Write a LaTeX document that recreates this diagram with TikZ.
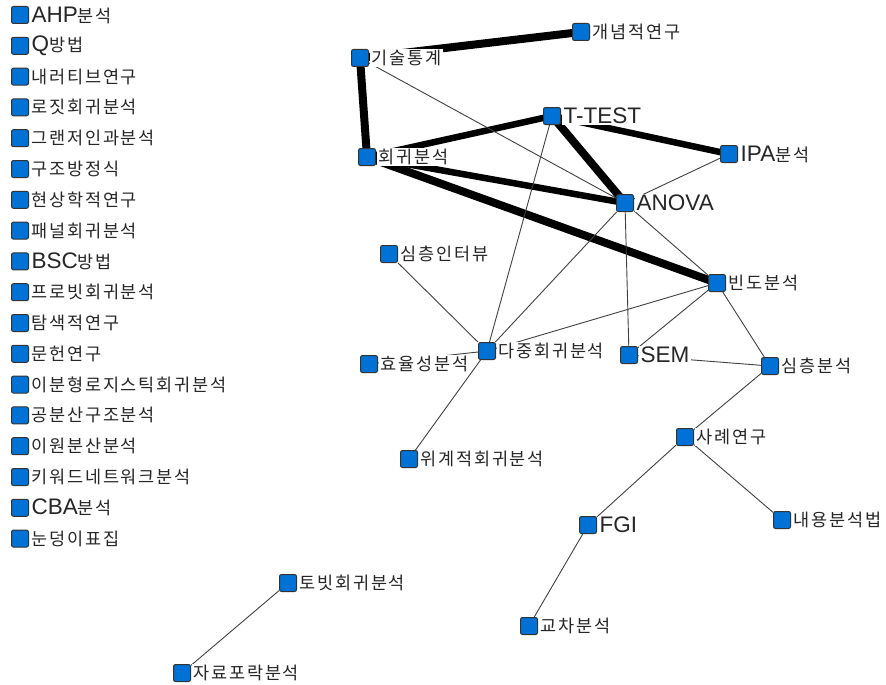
\documentclass[tikz,border=0pt]{standalone}
\usepackage{fontspec}
\usepackage{xcolor}
\setmainfont[LetterSpace=10]{Noto Sans CJK KR}
\newfontfamily\latinfont{Liberation Sans}
\usetikzlibrary{positioning,backgrounds}

\definecolor{nodeblue}{RGB}{0,114,214}
\newcommand{\latn}[1]{{\latinfont\fontsize{22.5}{22.5}\selectfont #1}}

\tikzset{
    kw/.style={draw=black!80, fill=nodeblue, rounded corners=2pt, minimum size=17pt, inner sep=0pt, line width=1pt},
    kwtext/.style={fill=white, inner sep=1.5pt, text=black!85, font=\fontsize{17.5}{19}\selectfont},
    heavy/.style={line width=8pt},
    strong/.style={line width=6.5pt},
    weak/.style={line width=0.9pt, draw=black!75},
}

\begin{document}
\begin{tikzpicture}[x=1pt, y=-1pt, label distance=1pt]
    \useasboundingbox (0,0) rectangle (886,685);
    % isolated keywords
    \begin{scope}[on grid, node distance=30.8pt]
        \node[kw, label={[kwtext, name=ahpText]right:{\latn{AHP}분석}}] (ahp) at (20,15) {};
        \node[kw, below=of ahp, label={[kwtext, name=qMethodText]right:{\latn{Q}방법}}] (qMethod) {};
        \node[kw, below=of qMethod, label={[kwtext, name=narrativeText]right:{내러티브연구}}] (narrative) {};
        \node[kw, below=of narrative, label={[kwtext, name=logitText]right:{로짓회귀분석}}] (logit) {};
        \node[kw, below=of logit, label={[kwtext, name=grangerText]right:{그랜저인과분석}}] (granger) {};
        \node[kw, below=of granger, label={[kwtext, name=structEqText]right:{구조방정식}}] (structEq) {};
        \node[kw, below=of structEq, label={[kwtext, name=phenomText]right:{현상학적연구}}] (phenom) {};
        \node[kw, below=of phenom, label={[kwtext, name=panelText]right:{패널회귀분석}}] (panel) {};
        \node[kw, below=of panel, label={[kwtext, name=bscText]right:{\latn{BSC}방법}}] (bsc) {};
        \node[kw, below=of bsc, label={[kwtext, name=probitText]right:{프로빗회귀분석}}] (probit) {};
        \node[kw, below=of probit, label={[kwtext, name=exploreText]right:{탐색적연구}}] (explore) {};
        \node[kw, below=of explore, label={[kwtext, name=literatureText]right:{문헌연구}}] (literature) {};
        \node[kw, below=of literature, label={[kwtext, name=binLogitText]right:{이분형로지스틱회귀분석}}] (binLogit) {};
        \node[kw, below=of binLogit, label={[kwtext, name=covStructText]right:{공분산구조분석}}] (covStruct) {};
        \node[kw, below=of covStruct, label={[kwtext, name=twoWayText]right:{이원분산분석}}] (twoWay) {};
        \node[kw, below=of twoWay, label={[kwtext, name=keywordNetText]right:{키워드네트워크분석}}] (keywordNet) {};
        \node[kw, below=of keywordNet, label={[kwtext, name=cbaText]right:{\latn{CBA}분석}}] (cba) {};
        \node[kw, below=of cba, label={[kwtext, name=snowballText]right:{눈덩이표집}}] (snowball) {};
    \end{scope}

    % network
    \node[kw, label={[kwtext, name=conceptualText]right:{개념적연구}}] (conceptual) at (581,32) {};
    \node[kw, label={[kwtext, name=descStatText]right:{기술통계}}] (descStat) at (360,58) {};
    \node[kw, label={[kwtext, name=tTestText]right:{\latn{T-TEST}}}] (tTest) at (552,116) {};
    \node[kw, label={[kwtext, name=ipaText]right:{\latn{IPA}분석}}] (ipa) at (729,154) {};
    \node[kw, label={[kwtext, name=regressText]right:{회귀분석}}] (regress) at (367,157) {};
    \node[kw, label={[kwtext, name=anovaText]right:{\latn{ANOVA}}}] (anova) at (625,203) {};
    \node[kw, label={[kwtext, name=deepInterviewText]right:{심층인터뷰}}] (deepInterview) at (389,254) {};
    \node[kw, label={[kwtext, name=freqText]right:{빈도분석}}] (freq) at (717,283) {};
    \node[kw, label={[kwtext, name=multiRegText]right:{다중회귀분석}}] (multiReg) at (487,351) {};
    \node[kw, label={[kwtext, name=efficiencyText]right:{효율성분석}}] (efficiency) at (369,364) {};
    \node[kw, label={[kwtext, name=semText]right:{\latn{SEM}}}] (sem) at (629,355) {};
    \node[kw, label={[kwtext, name=deepAnalysisText]right:{심층분석}}] (deepAnalysis) at (770,366) {};
    \node[kw, label={[kwtext, name=caseStudyText]right:{사례연구}}] (caseStudy) at (685,437) {};
    \node[kw, label={[kwtext, name=hierRegText]right:{위계적회귀분석}}] (hierReg) at (409,459) {};
    \node[kw, label={[kwtext, name=fgiText]right:{\latn{FGI}}}] (fgi) at (588,525) {};
    \node[kw, label={[kwtext, name=contentText]right:{내용분석법}}] (content) at (782,520) {};
    \node[kw, label={[kwtext, name=crossText]right:{교차분석}}] (cross) at (529,626) {};
    \node[kw, label={[kwtext, name=tobitText]right:{토빗회귀분석}}] (tobit) at (288,583) {};
    \node[kw, label={[kwtext, name=deaText]right:{자료포락분석}}] (dea) at (182,673) {};

    \begin{scope}[on background layer]
        \draw[heavy] (descStat.center) -- (conceptual.center);
        \draw[heavy] (descStat.center) -- (regress.center);
        \draw[heavy] (tTest.center) -- (anova.center);
        \draw[heavy] (regress.center) -- (freq.center);
        \draw[strong] (regress.center) -- (anova.center);
        \draw[strong] (regress.center) -- (tTest.center);
        \draw[strong] (tTest.center) -- (ipa.center);
        \draw[weak] (descStat) -- (anova)
                    (tTest) -- (multiReg)
                    (anova) -- (ipa)
                    (anova) -- (multiReg)
                    (anova) -- (sem)
                    (anova) -- (freq)
                    (freq) -- (multiReg)
                    (freq) -- (sem)
                    (freq) -- (deepAnalysis)
                    (sem) -- (deepAnalysis)
                    (deepInterview) -- (multiReg)
                    (efficiency) -- (multiReg)
                    (multiReg) -- (hierReg)
                    (deepAnalysis) -- (caseStudy)
                    (caseStudy) -- (fgi)
                    (caseStudy) -- (content)
                    (fgi) -- (cross)
                    (tobit) -- (dea);
    \end{scope}
\end{tikzpicture}
\end{document}
